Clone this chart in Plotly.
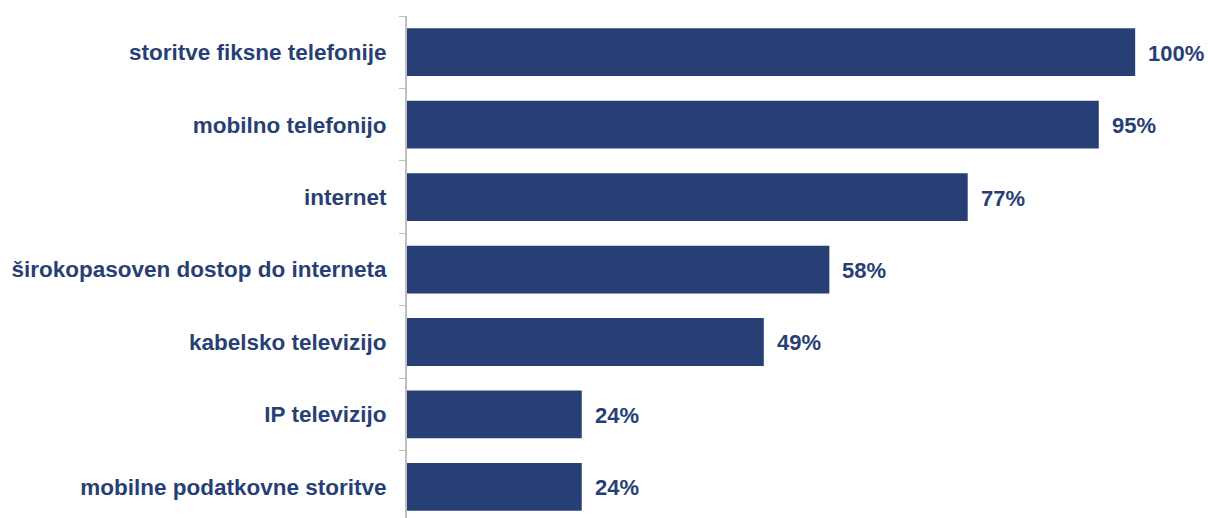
import plotly.graph_objects as go

categories = [
    "storitve fiksne telefonije",
    "mobilno telefonijo",
    "internet",
    "širokopasoven dostop do interneta",
    "kabelsko televizijo",
    "IP televizijo",
    "mobilne podatkovne storitve",
]
values = [100, 95, 77, 58, 49, 24, 24]
value_labels = ["100%", "95%", "77%", "58%", "49%", "24%", "24%"]

BAR = "#283F76"
TXT = "#283F76"

fig = go.Figure()
fig.add_trace(go.Bar(
    x=values, y=categories, orientation="h",
    marker=dict(color=BAR, line=dict(width=0)),
    width=0.66, hoverinfo="skip",
))
for c, v, t in zip(categories, values, value_labels):
    fig.add_annotation(x=v, y=c, text=t, showarrow=False, xanchor="left",
                       xshift=11, yshift=-1,
                       font=dict(family="Liberation Sans, Arial", size=22, color=TXT))

fig.update_layout(
    width=1208, height=518,
    margin=dict(l=407, r=0, t=16, b=0),
    plot_bgcolor="white", paper_bgcolor="white",
    showlegend=False,
    xaxis=dict(range=[0, 110.0], visible=False, fixedrange=True),
    yaxis=dict(
        type="category", categoryorder="array", categoryarray=categories,
        range=[6.43, -0.5],
        showline=True, linecolor="#BFBFBF", linewidth=2,
        ticks="outside", tickson="boundaries", ticklen=6, tickcolor="#BFBFBF", tickwidth=1,
        showgrid=False, zeroline=False, fixedrange=True,
        ticklabelstandoff=14,
        tickfont=dict(family="Liberation Sans, Arial", size=22.5, color=TXT, weight="bold"),
    ),
)
fig.update_annotations(font_weight="bold")
fig.write_html(
    "out.html",
    config={"displayModeBar": False},
    post_script="document.body.style.margin='0';document.body.style.overflow='hidden';",
)
